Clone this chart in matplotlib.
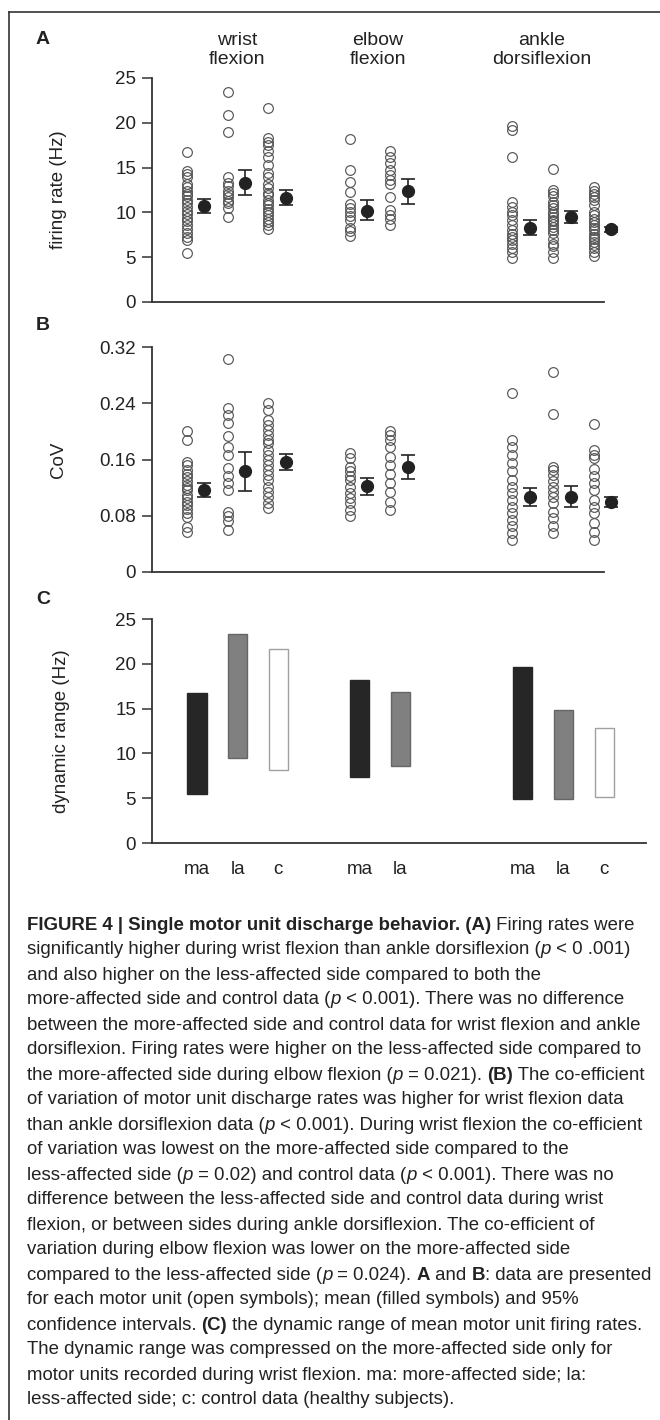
import matplotlib
matplotlib.use("Agg")
import matplotlib.pyplot as plt   # noqa: E402
from matplotlib.lines import Line2D   # noqa: E402

# x slots: wrist (ma, la, c), elbow (ma, la), ankle (ma, la, c)
POS = [1, 2, 3, 5, 6, 9, 10, 11]
COND = ["ma", "la", "c", "ma", "la", "ma", "la", "c"]
TASKS = ["wrist\nflexion", "elbow\nflexion", "ankle\ndorsiflexion"]

# firing rate (Hz), one value per motor unit
FR_WRIST_MA = [16.7, 14.6, 14.3, 14.0, 13.2, 12.8, 12.4, 12.1, 11.8, 11.4, 11.0,
               10.6, 10.2, 9.8, 9.4, 9.0, 8.6, 8.2, 7.7, 7.3, 6.9, 5.5]
FR_WRIST_LA = [23.4, 20.9, 19.0, 14.0, 13.3, 12.9, 12.4, 12.1, 11.7, 11.3, 11.0,
               10.5, 9.5]
FR_WRIST_C = [21.6, 18.3, 17.9, 17.5, 16.8, 16.2, 15.3, 14.4, 14.0, 13.2, 12.7,
              12.2, 11.9, 11.4, 11.0, 10.8, 10.4, 10.1, 9.7, 9.3, 8.9, 8.6, 8.2]
FR_ELBOW_MA = [18.2, 14.7, 13.4, 12.3, 10.9, 10.5, 10.1, 9.6, 9.2, 8.3, 7.9, 7.4]
FR_ELBOW_LA = [16.8, 16.2, 15.5, 14.7, 14.2, 13.6, 13.2, 11.7, 10.3, 9.7, 9.3, 8.6]
FR_ANKLE_MA = [19.6, 19.2, 16.2, 11.2, 10.6, 10.0, 9.7, 9.2, 8.6, 8.0, 7.6, 7.3,
               6.9, 6.5, 6.0, 5.6, 4.9]
FR_ANKLE_LA = [14.8, 12.5, 12.2, 11.8, 11.2, 10.8, 10.5, 10.1, 9.8, 9.5, 9.2, 9.0,
               8.7, 8.4, 8.0, 7.7, 7.0, 6.5, 6.2, 5.6, 4.9]
FR_ANKLE_C = [12.8, 12.4, 12.1, 11.7, 11.4, 10.8, 10.1, 9.7, 9.3, 8.9, 8.6, 8.3,
              8.0, 7.6, 7.3, 7.0, 6.7, 6.4, 6.0, 5.6, 5.1]
FR_MEAN = [10.7, 13.3, 11.6, 10.2, 12.4, 8.3, 9.5, 8.1]
FR_LO = [9.9, 11.9, 10.8, 9.1, 10.9, 7.5, 8.8, 7.8]
FR_HI = [11.5, 14.7, 12.5, 11.4, 13.7, 9.2, 10.2, 8.4]

# coefficient of variation
COV_WRIST_MA = [0.201, 0.188, 0.157, 0.152, 0.145, 0.140, 0.135, 0.130, 0.124, 0.120,
                0.116, 0.110, 0.105, 0.100, 0.095, 0.090, 0.084, 0.078, 0.064, 0.057]
COV_WRIST_LA = [0.303, 0.233, 0.224, 0.212, 0.193, 0.178, 0.166, 0.148, 0.136, 0.126,
                0.117, 0.086, 0.079, 0.072, 0.060]
COV_WRIST_C = [0.241, 0.230, 0.216, 0.209, 0.202, 0.195, 0.188, 0.183, 0.174, 0.166,
               0.159, 0.152, 0.145, 0.138, 0.131, 0.121, 0.114, 0.107, 0.098, 0.091]
COV_ELBOW_MA = [0.169, 0.162, 0.150, 0.143, 0.136, 0.131, 0.121, 0.112, 0.105, 0.098,
                0.088, 0.080]
COV_ELBOW_LA = [0.201, 0.195, 0.188, 0.178, 0.164, 0.152, 0.140, 0.126, 0.114, 0.100,
                0.088]
COV_ANKLE_MA = [0.254, 0.188, 0.178, 0.166, 0.155, 0.143, 0.131, 0.121, 0.112, 0.102,
                0.093, 0.084, 0.074, 0.065, 0.055, 0.045]
COV_ANKLE_LA = [0.285, 0.225, 0.150, 0.145, 0.138, 0.129, 0.121, 0.114, 0.107, 0.098,
                0.086, 0.077, 0.065, 0.055]
COV_ANKLE_C = [0.210, 0.173, 0.166, 0.162, 0.147, 0.136, 0.126, 0.117, 0.102, 0.093,
               0.084, 0.069, 0.057, 0.046]
COV_MEAN = [0.116, 0.144, 0.156, 0.123, 0.150, 0.107, 0.107, 0.099]
COV_LO = [0.106, 0.115, 0.145, 0.110, 0.132, 0.094, 0.092, 0.093]
COV_HI = [0.127, 0.171, 0.168, 0.134, 0.167, 0.120, 0.122, 0.106]

# dynamic range (Hz): low and high end of each bar
DR_LOW = [5.5, 9.5, 8.2, 7.4, 8.6, 4.9, 4.9, 5.1]
DR_HIGH = [16.7, 23.3, 21.6, 18.2, 16.8, 19.6, 14.8, 12.8]

FR_UNITS = [FR_WRIST_MA, FR_WRIST_LA, FR_WRIST_C, FR_ELBOW_MA, FR_ELBOW_LA,
            FR_ANKLE_MA, FR_ANKLE_LA, FR_ANKLE_C]
COV_UNITS = [COV_WRIST_MA, COV_WRIST_LA, COV_WRIST_C, COV_ELBOW_MA, COV_ELBOW_LA,
             COV_ANKLE_MA, COV_ANKLE_LA, COV_ANKLE_C]

BAR_STYLE = {"ma": ("#262626", "#262626"), "la": ("#808080", "#666666"),
             "c": ("white", "#a0a0a0")}

# caption: each line is a list of (text, style) runs; n=normal b=bold i=italic
CAPTION = [
    [("FIGURE 4 | Single motor unit discharge behavior. (A)", "b"), (" Firing rates were", "n")],
    [("significantly higher during wrist flexion than ankle dorsiflexion (", "n"), ("p", "i"),
     (" < 0 .001)", "n")],
    [("and also higher on the less-affected side compared to both the", "n")],
    [("more-affected side and control data (", "n"), ("p", "i"),
     (" < 0.001). There was no difference", "n")],
    [("between the more-affected side and control data for wrist flexion and ankle", "n")],
    [("dorsiflexion. Firing rates were higher on the less-affected side compared to", "n")],
    [("the more-affected side during elbow flexion (", "n"), ("p", "i"), (" = 0.021). ", "n"),
     ("(B)", "b"), (" The co-efficient", "n")],
    [("of variation of motor unit discharge rates was higher for wrist flexion data", "n")],
    [("than ankle dorsiflexion data (", "n"), ("p", "i"),
     (" < 0.001). During wrist flexion the co-efficient", "n")],
    [("of variation was lowest on the more-affected side compared to the", "n")],
    [("less-affected side (", "n"), ("p", "i"), (" = 0.02) and control data (", "n"),
     ("p", "i"), (" < 0.001). There was no", "n")],
    [("difference between the less-affected side and control data during wrist", "n")],
    [("flexion, or between sides during ankle dorsiflexion. The co-efficient of", "n")],
    [("variation during elbow flexion was lower on the more-affected side", "n")],
    [("compared to the less-affected side (", "n"), ("p", "i"), (" = 0.024). ", "n"),
     ("A", "b"), (" and ", "n"), ("B", "b"), (": data are presented", "n")],
    [("for each motor unit (open symbols); mean (filled symbols) and 95%", "n")],
    [("confidence intervals. ", "n"), ("(C)", "b"),
     (" the dynamic range of mean motor unit firing rates.", "n")],
    [("The dynamic range was compressed on the more-affected side only for", "n")],
    [("motor units recorded during wrist flexion. ma: more-affected side; la:", "n")],
    [("less-affected side; c: control data (healthy subjects).", "n")],
]

W, H = 660, 1420
plt.rcParams["font.family"] = ["Liberation Sans", "DejaVu Sans"]
CAP_FONT = ["Liberation Sans Narrow", "Liberation Sans", "DejaVu Sans"]
INK = "#222222"
AXC = "#333333"

fig = plt.figure(figsize=(W / 100, H / 100), dpi=100)


def px_axes(left, right, top, bottom):
    return fig.add_axes([left / W, 1 - bottom / H, (right - left) / W, (bottom - top) / H])


def style_axes(ax, ymax, ticks, labels, xmax):
    ax.set_xlim(-0.106, xmax)
    ax.set_ylim(0, ymax)
    for s in ("top", "right"):
        ax.spines[s].set_visible(False)
    for s in ("left", "bottom"):
        ax.spines[s].set_linewidth(1.3)
        ax.spines[s].set_color(AXC)
    ax.set_yticks(ticks)
    ax.set_yticklabels(labels)
    ax.tick_params(axis="y", direction="out", length=7.5, width=1.1, color=AXC,
                   labelsize=13.5, pad=4, labelcolor=INK)
    ax.tick_params(axis="x", length=0)
    ax.set_xticks([])


def scatter_panel(ax, units, mean, lo, hi):
    for p, vals in zip(POS, units):
        ax.plot([p - 0.25] * len(vals), vals, ls="none", marker="o", ms=7,
                mfc="none", mec="#555555", mew=0.85, clip_on=False)
    yerr = [[m - l for m, l in zip(mean, lo)], [h - m for m, h in zip(mean, hi)]]
    eb = ax.errorbar([p + 0.18 for p in POS], mean, yerr=yerr, fmt="o", ms=8.5,
                     color="#222222", ecolor="#222222", elinewidth=1.2, capsize=5,
                     capthick=1.2, zorder=3)
    for art in eb.get_children():
        art.set_clip_on(False)


# panel A
axA = px_axes(152, 604, 78, 302)
style_axes(axA, 25, [0, 5, 10, 15, 20, 25], ["0", "5", "10", "15", "20", "25"], 11.0)
scatter_panel(axA, FR_UNITS, FR_MEAN, FR_LO, FR_HI)
axA.set_ylabel("firing rate (Hz)", fontsize=13.5, color=INK)
axA.yaxis.set_label_coords(-0.188, 0.5)

# panel B
axB = px_axes(152, 604, 347, 572)
style_axes(axB, 0.32, [0, 0.08, 0.16, 0.24, 0.32], ["0", "0.08", "0.16", "0.24", "0.32"], 11.0)
scatter_panel(axB, COV_UNITS, COV_MEAN, COV_LO, COV_HI)
axB.set_ylabel("CoV", fontsize=13.5, color=INK)
axB.yaxis.set_label_coords(-0.188, 0.5)

# panel C
axC = px_axes(152, 646, 619, 843)
style_axes(axC, 25, [0, 5, 10, 15, 20, 25], ["0", "5", "10", "15", "20", "25"], 12.03)
for p, c, lo, hi in zip(POS, COND, DR_LOW, DR_HIGH):
    fc, ec = BAR_STYLE[c]
    axC.bar(p, hi - lo, bottom=lo, width=0.47, color=fc, edgecolor=ec, linewidth=1.0)
axC.set_xticks(POS)
axC.set_xticklabels(COND, fontsize=13.5, color=INK)
axC.tick_params(axis="x", length=0, pad=13)
axC.set_ylabel("dynamic range (Hz)", fontsize=13.5, color=INK)
axC.yaxis.set_label_coords(-0.166, 0.5)

# task headers and panel letters
for x, t in zip([237, 378, 542], TASKS):
    fig.text(x / W, 1 - 50 / H, t, ha="center", va="center", fontsize=14,
             linespacing=1.1, color=INK)
for y, letter in zip([40, 325, 600], ["A", "B", "C"]):
    fig.text(43 / W, 1 - y / H, letter, ha="center", va="center", fontsize=14,
             fontweight="bold", color=INK)

# frame lines at the left and top edge
fig.add_artist(Line2D([9 / W, 9 / W], [0, 1 - 12 / H], transform=fig.transFigure,
                      color="#333333", lw=1.2))
fig.add_artist(Line2D([9 / W, 1], [1 - 12 / H, 1 - 12 / H], transform=fig.transFigure,
                      color="#333333", lw=1.2))

# caption, drawn run by run so bold/italic pieces line up
renderer = fig.canvas.get_renderer()
STYLE_KW = {"n": {}, "b": {"fontweight": "bold"}, "i": {"fontstyle": "italic"}}
CAP_SIZE = 13.45


def run_width(text, kw):
    probe = fig.text(0, 0, "|" + text + "|", fontsize=CAP_SIZE, family=CAP_FONT, **kw)
    bars = fig.text(0, 0, "||", fontsize=CAP_SIZE, family=CAP_FONT, **kw)
    w = probe.get_window_extent(renderer).width - bars.get_window_extent(renderer).width
    probe.remove()
    bars.remove()
    return w


for i, line in enumerate(CAPTION):
    x = 27.0
    y = 925 + 25 * i
    for text, st in line:
        kw = STYLE_KW[st]
        fig.text(x / W, 1 - y / H, text, ha="left", va="center", fontsize=CAP_SIZE,
                 family=CAP_FONT, color=INK, **kw)
        x += run_width(text, kw)

fig.savefig("out.png", dpi=100)
